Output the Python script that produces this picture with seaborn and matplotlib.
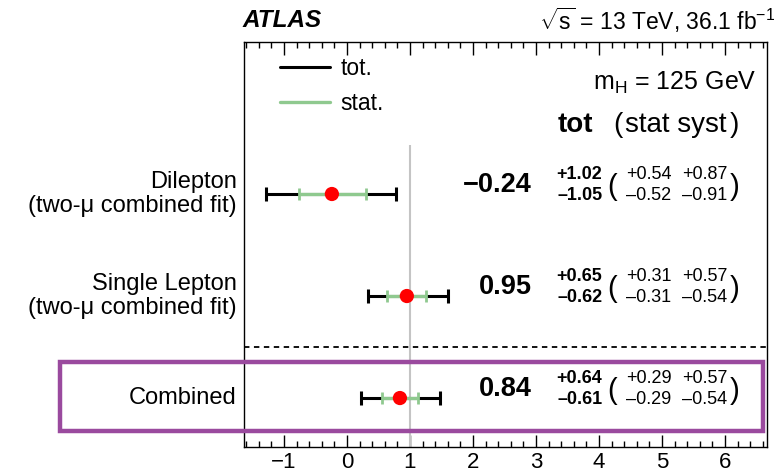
import matplotlib
matplotlib.use("Agg")
import matplotlib.pyplot as plt
import seaborn as sns
import pandas as pd
from matplotlib.lines import Line2D
from matplotlib.patches import Rectangle

# ---- data ----
categories = ["Dilepton\n(two-\u03bc combined fit)", "Single Lepton\n(two-\u03bc combined fit)", "Combined"]
mu = [-0.24, 0.95, 0.84]
tot_up = [1.02, 0.65, 0.64]
tot_dn = [1.05, 0.62, 0.61]
stat_up = [0.54, 0.31, 0.29]
stat_dn = [0.52, 0.31, 0.29]
syst_up = [0.87, 0.57, 0.57]
syst_dn = [0.91, 0.54, 0.54]
xticks = [-1, 0, 1, 2, 3, 4, 5, 6]

row_pos = [3, 2, 1]

sns.set_style("ticks")
plt.rcParams['font.family'] = ['Liberation Sans', 'DejaVu Sans']
plt.rcParams['text.color'] = 'black'
plt.rcParams['xtick.color'] = 'black'
plt.rcParams['axes.edgecolor'] = 'black'
plt.rcParams['mathtext.fontset'] = 'custom'
plt.rcParams['mathtext.rm'] = 'Liberation Sans'
plt.rcParams['mathtext.it'] = 'Liberation Sans:italic'
plt.rcParams['mathtext.bf'] = 'Liberation Sans:bold'

df = pd.DataFrame({"cat": categories, "mu": mu, "y": row_pos})

fig = plt.figure(figsize=(7.74, 4.74), dpi=100)
ax = fig.add_axes([244/774, 27/474, 523/774, 405/474])

green = "#8fc98f"
ax.vlines(1, 0.52, 3.48, color="#c4c4c4", lw=1.5, zorder=1)
ax.axhline(1.5, color="black", lw=1.3, ls=(0, (3, 2.5)), zorder=1)

ax.errorbar(df["mu"], df["y"], xerr=[tot_dn, tot_up], fmt="none", ecolor="black",
            elinewidth=2.2, capsize=4.7, capthick=2.2, zorder=2)
ax.errorbar(df["mu"], df["y"], xerr=[stat_dn, stat_up], fmt="none", ecolor=green,
            elinewidth=2.4, capsize=4.0, capthick=2.0, zorder=3)
sns.scatterplot(data=df, x="mu", y="y", ax=ax, color="red", s=105, edgecolor="none",
                zorder=4, legend=False)

ax.set_xlim(-1.635, 6.667)
ax.set_ylim(0.52, 4.49)
ax.set_xticks(xticks)
ax.set_xticklabels([("\u2212%d" % -t) if t < 0 else str(t) for t in xticks], fontsize=16)
ax.xaxis.set_minor_locator(matplotlib.ticker.MultipleLocator(0.2))
ax.tick_params(axis="x", which="major", direction="in", length=9, width=1, top=True,
               bottom=True, pad=3.5, colors="black")
ax.tick_params(axis="x", which="minor", direction="in", length=4, width=1, top=True, bottom=True)
ax.set_yticks([])
ax.set_xlabel("")
ax.set_ylabel("")
for s in ax.spines.values():
    s.set_linewidth(1.0)
    s.set_color("black")

ytr = ax.get_yaxis_transform()
for c, y, m, tu, td, su, sd, yu, yd in zip(categories, row_pos, mu, tot_up, tot_dn,
                                         stat_up, stat_dn, syst_up, syst_dn):
    ax.text(-0.0134, y, c, transform=ytr, ha="right", va="center", fontsize=17,
            linespacing=1.1, clip_on=False)
    mtxt = ("\u2212%.2f" % -m) if m < 0 else "%.2f" % m
    ax.text(0.550, y + 0.09, mtxt, transform=ytr, ha="right", va="center", fontsize=19.5,
            fontweight="bold")
    ax.text(0.685, y + 0.19, "+%.2f" % tu, transform=ytr, ha="right", va="center",
            fontsize=13, fontweight="bold")
    ax.text(0.685, y - 0.01, "\u2013%.2f" % td, transform=ytr, ha="right", va="center",
            fontsize=13, fontweight="bold")
    ax.text(0.703, y + 0.07, "(", transform=ytr, ha="center", va="center", fontsize=21)
    ax.text(0.817, y + 0.19, "+%.2f" % su, transform=ytr, ha="right", va="center", fontsize=13)
    ax.text(0.817, y - 0.01, "\u2013%.2f" % sd, transform=ytr, ha="right", va="center", fontsize=13)
    ax.text(0.924, y + 0.19, "+%.2f" % yu, transform=ytr, ha="right", va="center", fontsize=13)
    ax.text(0.924, y - 0.01, "\u2013%.2f" % yd, transform=ytr, ha="right", va="center", fontsize=13)
    ax.text(0.938, y + 0.07, ")", transform=ytr, ha="center", va="center", fontsize=21)

handles = [Line2D([], [], color="black", lw=2.2), Line2D([], [], color=green, lw=2.4)]
ax.legend(handles, ["tot.", "stat."], loc="upper left", bbox_to_anchor=(0.029, 1.015),
          frameon=False, fontsize=16.5, handlelength=2.2, handletextpad=0.45,
          labelspacing=0.55)

ax.text(0.979, 0.898, "m$_\\mathregular{H}$ = 125 GeV", transform=ax.transAxes, ha="right",
        va="center", fontsize=18)
ax.text(0.599, 0.795, "tot", transform=ax.transAxes, ha="left", va="center", fontsize=20,
        fontweight="bold")
ax.text(0.715, 0.795, "(", transform=ax.transAxes, ha="center", va="center", fontsize=20)
ax.text(0.826, 0.795, "stat syst", transform=ax.transAxes, ha="center", va="center", fontsize=20)
ax.text(0.938, 0.795, ")", transform=ax.transAxes, ha="center", va="center", fontsize=20)

fig.text(243/774, 0.957, "ATLAS", ha="left", va="center", fontsize=17.5, fontweight="bold",
         fontstyle="italic")
fig.text(1.002, 0.957, "$\\sqrt{\\mathregular{s}}$ = 13 TeV, 36.1 fb$^{\\mathregular{-1}}$",
         ha="right", va="center", fontsize=16.5)

box = Rectangle((60/774, 43/474), 703/774, 69/474, transform=fig.transFigure, fill=False,
                edgecolor="#9a4a9e", lw=3.2, zorder=10)
fig.patches.append(box)

fig.savefig("out.png", dpi=100)
